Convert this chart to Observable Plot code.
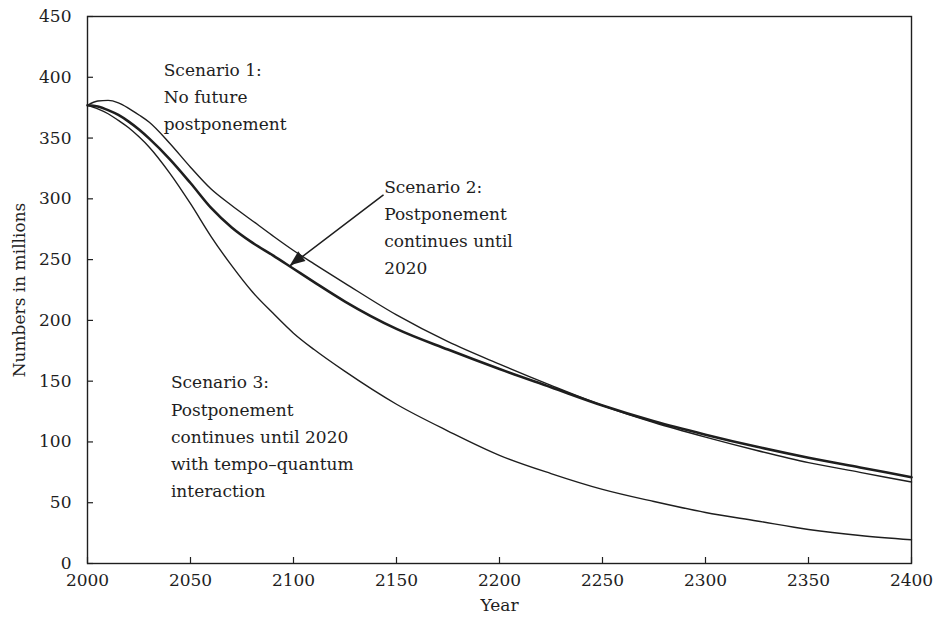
<!DOCTYPE html>
<html>
<head>
<meta charset="utf-8">
<script src="https://cdn.jsdelivr.net/npm/d3@7"></script>
<script src="https://cdn.jsdelivr.net/npm/@observablehq/plot@0.6"></script>
<style>
  html, body { margin: 0; padding: 0; background: #fff; }
  #chart svg { display: block; }
</style>
</head>
<body>
<div id="chart"></div>
<script>
const years = [2000, 2005, 2010, 2015, 2020, 2025, 2030, 2040, 2050, 2060, 2070, 2080, 2090, 2100, 2110, 2125, 2150, 2175, 2200, 2225, 2250, 2275, 2300, 2325, 2350, 2375, 2400];
const scenario1 = [377, 380.5, 381, 379, 374.5, 369, 363, 345.5, 326, 308, 294.5, 282, 269.5, 257.5, 246.5, 230.5, 204.5, 182.5, 164, 146.5, 130, 116, 104, 93, 83, 75, 67];
const scenario2 = [377, 376, 373, 369, 363.5, 357, 349.5, 332.5, 313, 292.5, 276.5, 264, 253.5, 242.5, 231.5, 215.5, 193, 176, 160, 145, 130, 117, 106, 96, 87, 79, 71];
const scenario3 = [377, 374, 370, 364.5, 358.5, 351, 342.5, 321, 296, 269, 245, 223.5, 206, 189.5, 176, 158, 131, 109, 89, 74, 61, 51, 42, 35, 28, 23, 19.5];

const xTicks = [2000, 2050, 2100, 2150, 2200, 2250, 2300, 2350, 2400];
const yTicks = [0, 50, 100, 150, 200, 250, 300, 350, 400, 450];

const labelTexts = [
  "Scenario 1:\nNo future\npostponement",
  "Scenario 2:\nPostponement\ncontinues until\n2020",
  "Scenario 3:\nPostponement\ncontinues until 2020\nwith tempo\u2013quantum\ninteraction"
];
const labelYears = [2037, 2144, 2040.5];
const labelValues = [417, 321, 160];

const arrowFrom = [2143.5, 303];
const arrowTo = [2098.5, 245];

const font = "DejaVu Serif";
const ink = "#1e1e1e";

const rows = (name, vals) => years.map((y, i) => ({year: y, value: vals[i], name}));
const s1 = rows("s1", scenario1);
const s2 = rows("s2", scenario2);
const s3 = rows("s3", scenario3);

const labels = labelTexts.map((t, i) => ({text: t, x: labelYears[i], y: labelValues[i]}));

const chart = Plot.plot({
  width: 938,
  height: 628,
  marginLeft: 87,
  marginRight: 27,
  marginTop: 16,
  marginBottom: 65,
  style: {fontFamily: font, fontSize: "17px", color: ink, background: "#fff"},
  x: {domain: [2000, 2400], label: null},
  y: {domain: [0, 450], label: null},
  marks: [
    Plot.frame({stroke: ink, strokeWidth: 1.4}),
    Plot.axisX({ticks: xTicks, tickSize: -6, tickPadding: 16, tickFormat: d => String(d), fontSize: 17, stroke: ink, strokeWidth: 1.2, label: null}),
    Plot.axisY({ticks: yTicks, tickSize: -6, tickPadding: 22, tickFormat: d => String(d), fontSize: 17, stroke: ink, strokeWidth: 1.2, label: null}),
    Plot.line(s1, {x: "year", y: "value", curve: "monotone-x", stroke: ink, strokeWidth: 1.4}),
    Plot.line(s3, {x: "year", y: "value", curve: "monotone-x", stroke: ink, strokeWidth: 1.4}),
    Plot.line(s2, {x: "year", y: "value", curve: "monotone-x", stroke: ink, strokeWidth: 2.6}),
    Plot.text(labels, {x: "x", y: "y", text: "text", textAnchor: "start", lineAnchor: "top", lineHeight: 1.6, fontSize: 17, fill: ink}),
    Plot.arrow([{x1: arrowFrom[0], y1: arrowFrom[1], x2: arrowTo[0], y2: arrowTo[1]}], {
      x1: "x1", y1: "y1", x2: "x2", y2: "y2", stroke: ink, strokeWidth: 1.5, headLength: 0
    }),
    Plot.text(["Numbers in millions"], {frameAnchor: "left", textAnchor: "middle", rotate: -90, dx: -68, fontSize: 17, fill: ink}),
    Plot.text(["Year"], {frameAnchor: "bottom", textAnchor: "middle", lineAnchor: "middle", dy: 42, fontSize: 17, fill: ink})
  ]
});

// filled arrow head placed through the chart's own scales
const sx = chart.scale("x"), sy = chart.scale("y");
const tx = sx.apply(arrowTo[0]), ty = sy.apply(arrowTo[1]);
const fx = sx.apply(arrowFrom[0]), fy = sy.apply(arrowFrom[1]);
const ang = Math.atan2(ty - fy, tx - fx);
const L = 15, W = 6;
const bx = tx - L * Math.cos(ang), by = ty - L * Math.sin(ang);
const px = -Math.sin(ang), py = Math.cos(ang);
d3.select(chart).append("path")
  .attr("d", `M${tx},${ty}L${bx + W * px},${by + W * py}L${bx - W * px},${by - W * py}Z`)
  .attr("fill", ink);

document.getElementById("chart").appendChild(chart);
</script>
</body>
</html>
